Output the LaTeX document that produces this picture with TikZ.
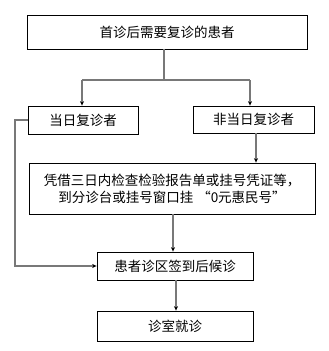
\documentclass[tikz,border=0pt]{standalone}
\usepackage{fontspec}
\setmainfont{Noto Sans CJK SC}
\usetikzlibrary{arrows.meta}
\definecolor{linegray}{RGB}{120,120,120}
\begin{document}
\begin{tikzpicture}[x=1pt,y=-1pt,
  box/.style={draw=black,line width=0.8pt,inner sep=0pt,align=center,font=\fontsize{13.5}{17}\selectfont},
  conn/.style={draw=linegray,line width=1.1pt},
  arr/.style={conn,-{Stealth[length=4.5pt,width=4pt,color=black]}}]
\useasboundingbox (0,0) rectangle (329,351);
\node[box,minimum width=280pt,minimum height=34pt] (b1) at (167,32) {首诊后需要复诊的患者};
\node[box,minimum width=110pt,minimum height=28pt] (b2) at (83,120) {当日复诊者};
\node[box,minimum width=121pt,minimum height=27pt] (b3) at (253.5,119.5) {非当日复诊者};
\node[box,minimum width=286pt,minimum height=51pt] (b4) at (172,188.5) {凭借三日内检查检验报告单或挂号凭证等，\\到分诊台或挂号窗口挂\hspace{4pt}“0元惠民号”};
\node[box,minimum width=156pt,minimum height=28pt] (b5) at (175,266) {患者诊区签到后候诊};
\node[box,minimum width=156pt,minimum height=30pt] (b6) at (175,326) {诊室就诊};
\coordinate (j) at (164,80);
\coordinate (jl) at (82,80);
\coordinate (jr) at (250,80);
\coordinate (ll) at (15,120);
\draw[conn] (b1.south -| j) -- (j);
\draw[conn] (jl) -- (jr);
\draw[arr] (jl) -- (b2.north -| jl);
\draw[arr] (jr) -- (b3.north -| jr);
\draw[arr] ([xshift=2.5pt]b3.south) -- ([xshift=2.5pt]b3.south |- b4.north);
\draw[arr] ([xshift=-2pt]b4.south -| b5.north) -- ([xshift=-2pt]b5.north);
\draw[arr] ([xshift=1pt]b5.south) -- ([xshift=1pt]b6.north);
\draw[arr] (b2.west) -- (ll) |- (b5.west);
\end{tikzpicture}
\end{document}
